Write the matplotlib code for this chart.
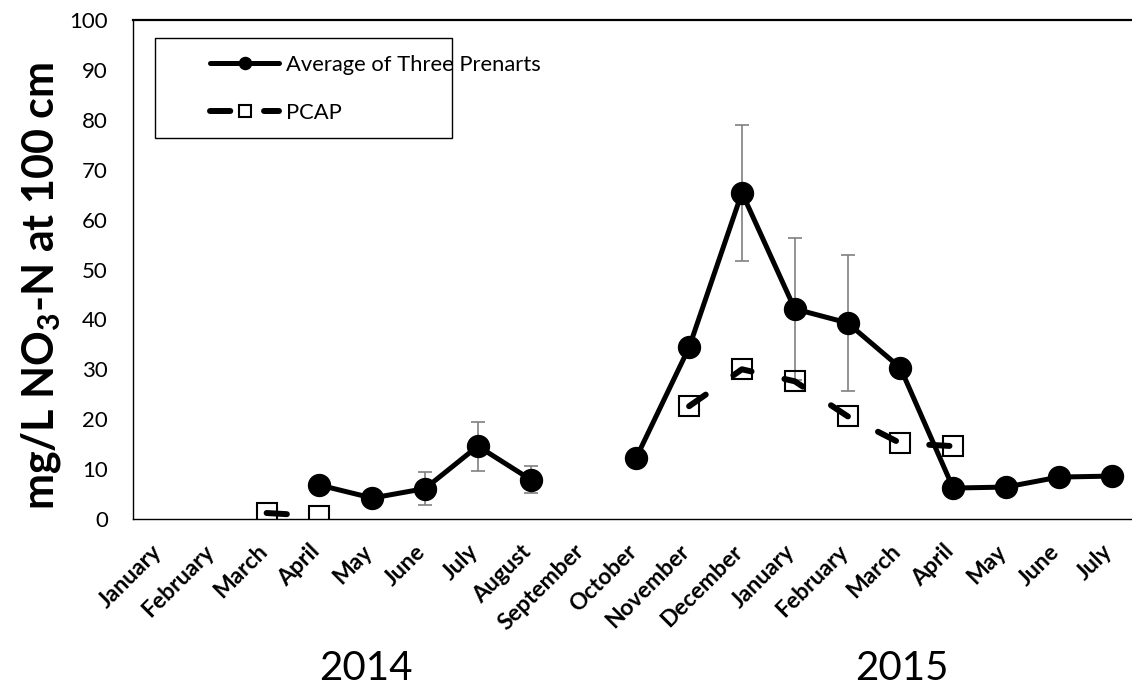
import numpy as np
import matplotlib
matplotlib.use("Agg")
import matplotlib.pyplot as plt
from matplotlib.patches import Rectangle
import matplotlib.transforms as mtransforms

plt.rcParams['font.family'] = ['Lato', 'DejaVu Sans']
plt.rcParams['mathtext.fontset'] = 'custom'
plt.rcParams['mathtext.rm'] = 'Lato:bold'
plt.rcParams['mathtext.bf'] = 'Lato:bold'
plt.rcParams['lines.scale_dashes'] = False

# ---- data ----
months = ["January", "February", "March", "April", "May", "June", "July",
          "August", "September", "October", "November", "December",
          "January", "February", "March", "April", "May", "June", "July"]
nan = np.nan
avg = [nan, nan, nan, 6.8, 4.2, 6.1, 14.6, 7.9, nan, 12.3, 34.4, 65.4,
       42.1, 39.3, 30.3, 6.2, 6.4, 8.4, 8.6]
avg_err = [0, 0, 0, 0, 0, 3.3, 4.9, 2.7, 0, 0, 0, 13.6,
           14.2, 13.6, 0, 0, 0, 0, 0]
pcap = [nan, nan, 1.2, 0.6, nan, nan, nan, nan, nan, nan, 22.6, 30.0,
        27.6, 20.6, 15.2, 14.6, nan, nan, nan]
years = ["2014", "2015"]
yticks = list(range(0, 101, 10))

W, H = 1132, 689
DPI = 100
fig = plt.figure(figsize=(W / DPI, H / DPI), dpi=DPI)

# axes placement in pixels
x_left, x_right = 133, 1138
y_top, y_bot = 20, 519
ax = fig.add_axes([x_left / W, 1 - y_bot / H, (x_right - x_left) / W, (y_bot - y_top) / H])

x = np.arange(len(months))
ax.set_xlim(-0.53, len(months) - 0.5)
ax.set_ylim(0, 100)

# error bars
ax.errorbar(x, avg, yerr=avg_err, fmt='none', ecolor='#808080', elinewidth=1.2,
            capsize=4.7, capthick=1.2, zorder=2)

ax.plot(x, avg, color='black', lw=3.6, marker='o', ms=15.8, mfc='black', mec='black',
        solid_capstyle='round', zorder=4, label='Average of Three Prenarts')
ax.plot(x, pcap, color='black', lw=4.3, dashes=(14.6, 24.3), dash_capstyle='round',
        marker='s', ms=14.5, mfc='none', mec='black', mew=1.5, zorder=3, label='PCAP')

ax.set_yticks(yticks)
ax.set_xticks(x)
ax.set_xticklabels(months, rotation=45, ha='right', va='center', rotation_mode='anchor',
                   fontsize=16.5, fontweight='bold')
ax.tick_params(axis='x', length=0, pad=21)
ax.tick_params(axis='y', length=0, pad=18, labelsize=16)
off = mtransforms.ScaledTranslation(-3 / DPI, 0, fig.dpi_scale_trans)
for lab in ax.get_xticklabels():
    lab.set_transform(lab.get_transform() + off)

for s in ['left', 'bottom', 'top']:
    ax.spines[s].set_color('black')
    ax.spines[s].set_linewidth(1.0)
ax.spines['top'].set_linewidth(1.6)
ax.spines['right'].set_visible(False)

# legend frame
fig.patches.append(Rectangle((155 / W, 1 - 138 / H), (452 - 155) / W, (138 - 38) / H,
                             transform=fig.transFigure, fill=False, edgecolor='black', lw=1.0))
leg = ax.legend(loc='upper left', bbox_to_anchor=(199 / W, 1 - 44 / H),
                bbox_transform=fig.transFigure, frameon=False, borderpad=0,
                fontsize=15.8, handlelength=3.15, handletextpad=0.31, labelspacing=1.27,
                markerscale=0.55)

# y label
fig.text(41 / W, 1 - 286 / H, r"mg/L NO$_3$-N at 100 cm", rotation=90,
         ha='center', va='center', fontsize=31, fontweight='bold')

# year labels
fig.text(366 / W, 1 - 668 / H, years[0], ha='center', va='center', fontsize=29)
fig.text(902 / W, 1 - 668 / H, years[1], ha='center', va='center', fontsize=29)

fig.savefig("out.png", dpi=DPI)
